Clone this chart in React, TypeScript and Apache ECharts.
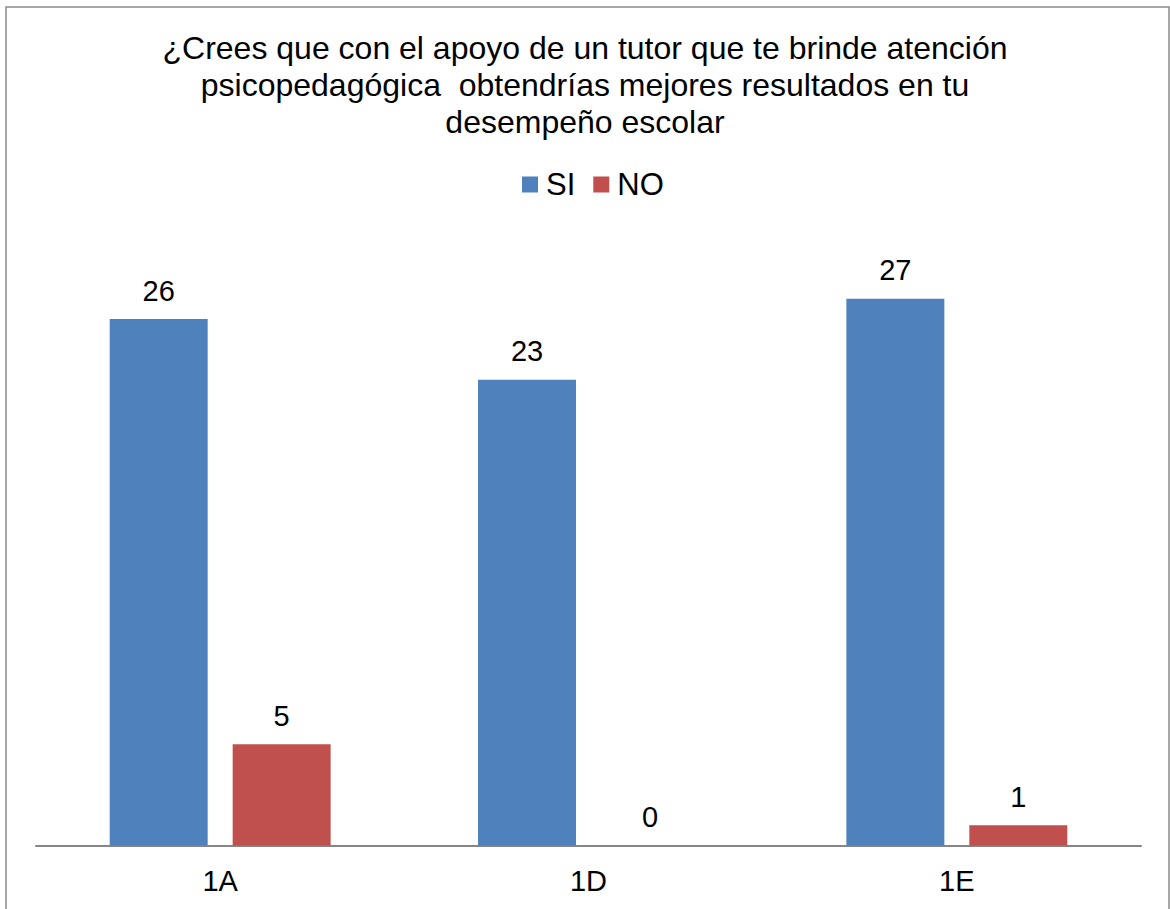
import React, { useEffect, useRef } from "react";
import * as echarts from "echarts";

const categories = ["1A", "1D", "1E"];
const siValues = [26, 23, 27];
const noValues = [5, 0, 1];
const titleText =
  "¿Crees que con el apoyo de un tutor que te brinde atención\npsicopedagógica  obtendrías mejores resultados en tu\ndesempeño escolar";

const FONT = "'Liberation Sans', Arial, sans-serif";

export default function App() {
  const ref = useRef<HTMLDivElement>(null);
  useEffect(() => {
    if (!ref.current) return;
    const chart = echarts.init(ref.current, undefined, { renderer: "svg" });
    const label = {
      show: true,
      position: "top",
      distance: 14,
      fontSize: 29,
      lineHeight: 29,
      color: "#000",
      fontFamily: FONT,
    };
    chart.setOption({
      animation: false,
      backgroundColor: "#fff",
      title: {
        text: titleText,
        left: "center",
        top: 24,
        textStyle: {
          fontSize: 32,
          lineHeight: 37,
          fontWeight: "normal",
          color: "#000",
          fontFamily: FONT,
        },
      },
      legend: {
        data: ["SI", "NO"],
        top: 164,
        left: 517,
        icon: "rect",
        itemWidth: 16,
        itemHeight: 16,
        itemGap: 18,
        textStyle: { fontSize: 31, color: "#000", fontFamily: FONT, padding: [0, 0, 0, 3] },
      },
      graphic: [
        {
          type: "rect",
          shape: { x: 6, y: 7, width: 1163, height: 930 },
          style: { fill: "none", stroke: "#8a8a8a", lineWidth: 1.5 },
          silent: true,
        },
      ],
      grid: { left: 36, right: 29, top: 238, bottom: 63.5, containLabel: false },
      xAxis: {
        type: "category",
        data: categories,
        axisLine: { lineStyle: { color: "#868686", width: 2 } },
        axisTick: { show: false },
        axisLabel: { fontSize: 29, lineHeight: 29, color: "#000", margin: 20.5, fontFamily: FONT },
      },
      yAxis: {
        type: "value",
        min: 0,
        max: 30,
        show: false,
        splitLine: { show: false },
      },
      series: [
        {
          name: "SI",
          type: "bar",
          data: siValues,
          barWidth: "26.6%",
          barGap: "25.5%",
          itemStyle: { color: "#4F81BD" },
          label,
        },
        {
          name: "NO",
          type: "bar",
          data: noValues,
          barWidth: "26.6%",
          itemStyle: { color: "#C0504D" },
          label,
        },
      ],
    });
    return () => chart.dispose();
  }, []);
  return (
    <div
      ref={ref}
      style={{ position: "fixed", left: 0, top: 0, width: 1170, height: 909 }}
    />
  );
}
